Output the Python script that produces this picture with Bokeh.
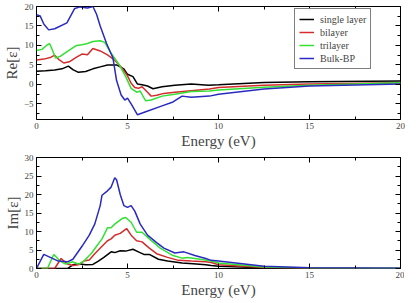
from bokeh.plotting import figure
from bokeh.layouts import column
from bokeh.models import LinearAxis, Range1d, FixedTicker, Legend, LegendItem
from bokeh.embed import file_html
from bokeh.resources import INLINE

# ---- data ----
re_black_e = [0, 0.5, 1.0, 1.4, 1.75, 2.0, 2.3, 2.7, 3.1, 3.5, 3.9, 4.4, 4.8, 5.0, 5.3, 5.55, 5.8, 6.1, 6.4, 6.9, 7.6, 8.5, 9.45, 10, 12.5, 15, 20]
re_black_v = [3.4, 3.5, 3.7, 4.0, 4.7, 3.8, 3.1, 3.3, 4.0, 4.5, 5.0, 5.0, 4.0, 2.6, 2.0, 0.1, -0.1, -0.4, -1.1, -0.6, -0.2, 0.1, -0.2, -0.1, 0.5, 0.7, 0.9]

re_red_e = [0, 0.4, 0.8, 1.0, 1.2, 1.5, 1.8, 2.2, 2.5, 2.8, 3.1, 3.5, 3.9, 4.3, 4.7, 5.0, 5.2, 5.4, 5.6, 5.8, 6.1, 6.3, 6.6, 7.0, 7.6, 8.5, 9.5, 10, 12.5, 15, 20]
re_red_v = [6.3, 6.5, 7.0, 7.5, 6.5, 5.5, 5.8, 7.0, 7.8, 7.6, 9.2, 8.6, 7.6, 6.2, 4.2, 2.2, 0.3, -0.8, -1.0, -0.6, -2.0, -3.0, -2.8, -2.3, -2.0, -1.6, -1.2, -0.8, -0.2, 0.1, 0.4]

re_green_e = [0, 0.3, 0.55, 0.72, 0.9, 1.05, 1.3, 1.7, 2.2, 2.5, 2.8, 3.1, 3.5, 3.75, 4.1, 4.55, 4.9, 5.2, 5.5, 5.7, 5.85, 6.0, 6.3, 6.9, 7.6, 8.5, 9.5, 10, 12.5, 15, 20]
re_green_v = [8.7, 9.0, 10.0, 10.5, 8.5, 6.8, 7.2, 8.5, 10.0, 10.2, 10.5, 11.0, 11.2, 10.8, 8.0, 5.0, 2.0, -1.0, -2.0, -1.7, -3.0, -4.2, -4.0, -3.0, -2.5, -1.8, -1.7, -1.4, -0.7, -0.2, 0.4]

re_blue_e = [0, 0.2, 0.4, 0.67, 1.0, 1.67, 2.1, 2.4, 2.8, 3.1, 3.3, 3.5, 3.85, 4.2, 4.4, 4.65, 4.85, 5.0, 5.2, 5.55, 6.0, 6.9, 7.5, 8.0, 8.5, 9.5, 10, 12.5, 15, 20]
re_blue_v = [17.9, 17.6, 15.5, 14.0, 14.3, 15.8, 19.5, 19.9, 19.6, 20.0, 18.0, 15.0, 10.5, 6.8, 1.0, -2.7, -4.0, -3.5, -5.0, -7.8, -7.0, -5.5, -4.5, -3.0, -3.3, -3.0, -2.5, -1.2, -0.4, 0.1]

im_black_e = [0, 1.7, 2.0, 2.3, 2.7, 3.1, 3.4, 3.7, 4.1, 4.3, 4.6, 4.9, 5.3, 5.6, 5.9, 6.2, 6.7, 7.2, 8.0, 8.6, 9.3, 9.6, 10, 12.5, 15, 20]
im_black_v = [0, 0, 1.0, 1.3, 1.0, 1.1, 2.0, 3.0, 4.5, 4.3, 4.8, 4.7, 5.2, 4.5, 3.8, 3.8, 2.5, 2.0, 1.5, 1.3, 1.0, 0.8, 0.6, 0.2, 0.05, 0.0]

im_red_e = [0, 1.0, 1.35, 1.7, 2.0, 2.3, 2.6, 2.9, 3.2, 3.6, 3.9, 4.1, 4.3, 4.6, 4.95, 5.2, 5.5, 5.8, 6.2, 6.6, 7.2, 7.8, 8.5, 9.3, 9.6, 10, 12.5, 15, 20]
im_red_v = [0, 0, 2.7, 1.2, 0.8, 1.0, 2.0, 2.3, 4.0, 6.0, 7.5, 8.0, 9.0, 9.5, 10.8, 9.0, 7.5, 7.2, 5.5, 4.0, 3.0, 2.2, 2.0, 1.8, 1.6, 1.0, 0.3, 0.1, 0.0]

im_green_e = [0, 0.6, 0.95, 1.3, 1.6, 2.0, 2.3, 2.6, 3.0, 3.3, 3.6, 3.9, 4.1, 4.3, 4.7, 4.9, 5.2, 5.5, 5.8, 6.2, 6.8, 7.5, 8.0, 8.3, 9.0, 9.6, 10, 12.5, 15, 20]
im_green_v = [0, 0, 3.8, 2.0, 1.2, 1.8, 1.2, 2.0, 4.0, 6.0, 8.0, 11.0, 11.0, 12.0, 13.5, 13.8, 12.5, 9.8, 9.8, 8.0, 5.5, 3.5, 2.8, 3.0, 2.5, 2.0, 1.5, 0.4, 0.15, 0.05]

im_blue_e = [0, 0.4, 1.2, 1.7, 2.0, 2.5, 2.9, 3.2, 3.5, 3.6, 3.9, 4.1, 4.3, 4.4, 4.6, 4.8, 5.0, 5.2, 5.4, 5.7, 6.1, 6.6, 7.0, 7.6, 8.1, 8.7, 9.3, 9.6, 10, 12.5, 15, 20]
im_blue_v = [0, 3.8, 2.0, 1.8, 2.5, 6.0, 9.0, 12.0, 17.0, 19.8, 21.0, 22.0, 24.5, 24.0, 20.0, 17.0, 16.5, 17.0, 15.5, 12.0, 9.0, 7.0, 5.5, 4.2, 4.5, 3.5, 2.7, 2.2, 2.0, 0.6, 0.2, 0.05]

labels = ["single layer", "bilayer", "trilayer", "Bulk-BP"]
colors = ["black", "#d42c2c", "#33e033", "#2a2ac0"]
x_ticks = [0, 5, 10, 15, 20]
x_minor = [2.5, 7.5, 12.5, 17.5]
re_ticks = [-5, 0, 5, 10, 15, 20]
re_minor = [-7.5, -2.5, 2.5, 7.5, 12.5, 17.5]
im_ticks = [0, 5, 10, 15, 20, 25, 30]
im_minor = [2.5, 7.5, 12.5, 17.5, 22.5, 27.5]

SERIF = "Liberation Serif"


def style_axes(p, yticks, yminor):
    p.xaxis.ticker = FixedTicker(ticks=x_ticks, minor_ticks=x_minor)
    p.yaxis.ticker = FixedTicker(ticks=yticks, minor_ticks=yminor)
    for ax in p.xaxis + p.yaxis:
        ax.major_tick_in = 5
        ax.major_tick_out = 0
        ax.minor_tick_in = 3
        ax.minor_tick_out = 0
        ax.axis_line_color = None
        ax.major_label_text_font = SERIF
        ax.major_label_text_font_size = "9px"
        ax.axis_label_text_font = SERIF
        ax.axis_label_text_font_size = "15px"
        ax.axis_label_text_font_style = "normal"
        ax.major_label_standoff = 3
        ax.axis_label_standoff = 1
    top = LinearAxis(ticker=FixedTicker(ticks=x_ticks, minor_ticks=x_minor),
                     major_label_overrides={t: "" for t in x_ticks},
                     major_tick_in=5, major_tick_out=0,
                     minor_tick_in=3, minor_tick_out=0, axis_line_color=None,
                     major_label_standoff=0)
    right = LinearAxis(ticker=FixedTicker(ticks=yticks, minor_ticks=yminor),
                       major_label_overrides={t: "" for t in yticks},
                       major_tick_in=5, major_tick_out=0,
                       minor_tick_in=3, minor_tick_out=0, axis_line_color=None,
                       major_label_standoff=0)
    p.add_layout(top, "above")
    p.add_layout(right, "right")
    p.xgrid.visible = False
    p.ygrid.visible = False
    p.outline_line_color = "black"
    p.outline_line_width = 1


p1 = figure(frame_width=364, frame_height=113, output_backend="svg", toolbar_location=None,
            x_range=Range1d(0, 20), y_range=Range1d(-9, 20),
            min_border_left=31, min_border_right=5, min_border_top=6, min_border_bottom=0)
p1.xaxis.axis_label = "Energy (eV)"
p1.yaxis.axis_label = "Re[ε]"

re_sets = [(re_black_e, re_black_v), (re_red_e, re_red_v), (re_green_e, re_green_v), (re_blue_e, re_blue_v)]
renderers = []
for (e, v), c in zip(re_sets, colors):
    r = p1.line(e, v, line_color=c, line_width=1.5)
    renderers.append(r)
style_axes(p1, re_ticks, re_minor)

legend = Legend(items=[LegendItem(label=l, renderers=[r]) for l, r in zip(labels, renderers)],
                location=(258, 50), label_text_font=SERIF, label_text_font_size="10px",
                glyph_width=15, glyph_height=12, label_height=12, spacing=1,
                padding=4, margin=0, border_line_color="black", border_line_width=1,
                label_standoff=6)
p1.add_layout(legend, "center")

p2 = figure(frame_width=364, frame_height=111, output_backend="svg", toolbar_location=None,
            x_range=Range1d(0, 20), y_range=Range1d(0, 30),
            min_border_left=31, min_border_right=5, min_border_top=6, min_border_bottom=0)
p2.xaxis.axis_label = "Energy (eV)"
p2.yaxis.axis_label = "Im[ε]"
im_sets = [(im_black_e, im_black_v), (im_red_e, im_red_v), (im_green_e, im_green_v), (im_blue_e, im_blue_v)]
for (e, v), c in zip(im_sets, colors):
    p2.line(e, v, line_color=c, line_width=1.5)
style_axes(p2, im_ticks, im_minor)

layout = column(p1, p2, spacing=0)
open("out.html", "w").write(file_html(layout, INLINE))
